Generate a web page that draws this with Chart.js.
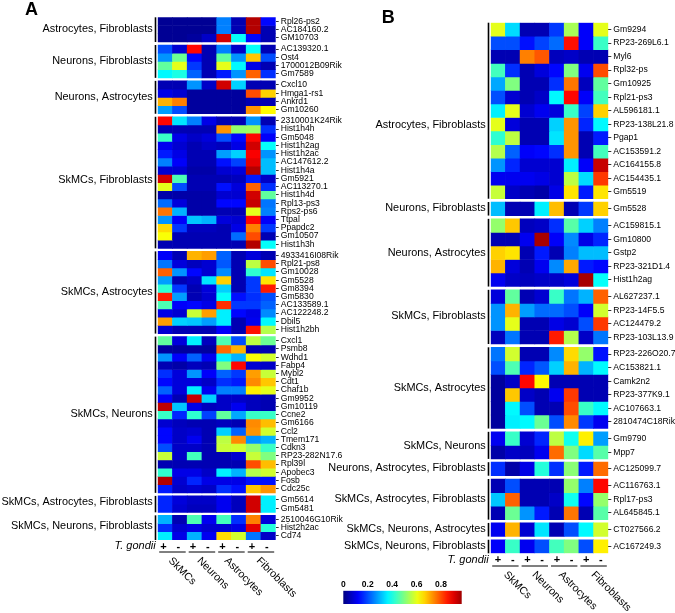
<!DOCTYPE html>
<html>
<head>
<meta charset="utf-8">
<title>Heatmaps</title>
<script src="https://cdn.jsdelivr.net/npm/chart.js@4/dist/chart.umd.min.js"></script>
<style>
  html, body { margin: 0; padding: 0; background: #fff; overflow: hidden; }
  canvas { position: absolute; }
</style>
</head>
<body>
<canvas id="panelA" width="345" height="613" style="left:0;top:0"></canvas>
<canvas id="panelB" width="385" height="613" style="left:290px;top:0"></canvas>
<canvas id="colorbar" width="140" height="38" style="left:335px;top:575px"></canvas>
<script>
const columns = ['+', '-', '+', '-', '+', '-', '+', '-'];
const cellTypes = ['SkMCs', 'Neurons', 'Astrocytes', 'Fibroblasts'];
const colorbarTicks = [0, 0.2, 0.4, 0.6, 0.8];

const groupNamesA = ['Astrocytes, Fibroblasts', 'Neurons, Fibroblasts', 'Neurons, Astrocytes', 'SkMCs, Fibroblasts',
  'SkMCs, Astrocytes', 'SkMCs, Neurons', 'SkMCs, Astrocytes, Fibroblasts', 'SkMCs, Neurons, Fibroblasts'];
const groupSizesA = [3, 4, 4, 16, 10, 19, 2, 3];
const genesA = ['Rpl26-ps2', 'AC184160.2', 'GM10703',
  'AC139320.1', 'Ost4', '1700012B09Rik', 'Gm7589',
  'Cxcl10', 'Hmga1-rs1', 'Ankrd1', 'Gm10260',
  '2310001K24Rik', 'Hist1h4h', 'Gm5048', 'Hist1h2ag', 'Hist1h2ac', 'AC147612.2', 'Hist1h4a', 'Gm5921',
  'AC113270.1', 'Hist1h4d', 'Rpl13-ps3', 'Rps2-ps6', 'Ttpal', 'Ppapdc2', 'Gm10507', 'Hist1h3h',
  '4933416I08Rik', 'Rpl21-ps8', 'Gm10028', 'Gm5528', 'Gm8394', 'Gm5830', 'AC133589.1', 'AC122248.2', 'Dbil5', 'Hist1h2bh',
  'Cxcl1', 'Psmb8', 'Wdhd1', 'Fabp4', 'Mybl2', 'Cdt1', 'Chaf1b', 'Gm9952', 'Gm10119', 'Ccne2',
  'Gm6166', 'Ccl2', 'Tmem171', 'Cdkn3', 'RP23-282N17.6', 'Rpl39l', 'Apobec3', 'Fosb', 'Cdc25c',
  'Gm5614', 'Gm5481',
  '2510046G10Rik', 'Hist2h2ac', 'Cd74'];
const valuesA = [
  [.02,.02,.02,.02,.25,.05,.95,.13],
  [.02,.02,.02,.02,.25,.05,.95,.05],
  [.02,.02,.03,.07,.92,.38,.13,.05],

  [.2,.08,.87,.05,.25,.07,.38,.05],
  [.27,.48,.13,.05,.47,.27,.68,.2],
  [.47,.6,.18,.05,.6,.37,.1,.05],
  [.37,.4,.22,.05,.15,.27,.78,.17],

  [.05,.05,.27,.07,.92,.33,.05,.05],
  [.1,.08,.03,.03,.03,.03,.8,.67],
  [.7,.75,.03,.03,.03,.03,.05,.05],
  [.28,.2,.03,.03,.03,.03,.73,.63],

  [.87,.35,.25,.1,.05,.05,.27,.05],
  [.05,.05,.05,.05,.73,.52,.53,.17],
  [.43,.1,.07,.09,.2,.13,.87,.12],
  [.11,.08,.05,.07,.06,.1,.92,.38],
  [.15,.1,.05,.05,.28,.33,.88,.27],
  [.25,.12,.05,.05,.14,.19,.9,.31],
  [.08,.08,.04,.04,.08,.09,.95,.31],
  [.92,.45,.05,.05,.05,.06,.15,.07],
  [.6,.2,.05,.05,.14,.09,.78,.17],
  [.04,.04,.04,.04,.08,.08,.92,.47],
  [.23,.09,.04,.04,.13,.13,.93,.24],
  [.76,.3,.04,.04,.05,.05,.6,.25],
  [.27,.12,.32,.3,.09,.08,.87,.12],
  [.66,.18,.06,.06,.05,.1,.75,.18],
  [.62,.05,.05,.05,.05,.23,.8,.05],
  [.05,.05,.05,.05,.05,.05,.95,.38],

  [.12,.05,.7,.72,.22,.05,.09,.05],
  [.24,.09,.06,.08,.21,.05,.56,.8],
  [.78,.27,.13,.08,.26,.05,.42,.35],
  [.28,.05,.07,.35,.67,.05,.18,.65],
  [.42,.18,.05,.09,.33,.05,.18,.85],
  [.85,.28,.05,.08,.38,.14,.17,.2],
  [.45,.12,.13,.1,.83,.18,.18,.22],
  [.1,.08,.57,.72,.36,.13,.1,.26],
  [.72,.33,.32,.28,.36,.05,.11,.37],
  [.08,.05,.05,.05,.12,.05,.86,.55],

  [.47,.09,.36,.06,.45,.2,.56,.48],
  [.03,.03,.03,.03,.77,.7,.05,.05],
  [.27,.12,.22,.11,.36,.3,.62,.58],
  [.05,.04,.06,.05,.5,.87,.08,.07],
  [.17,.09,.27,.12,.22,.18,.72,.57],
  [.13,.09,.09,.07,.17,.15,.74,.68],
  [.22,.09,.36,.11,.25,.25,.64,.6],
  [.12,.05,.93,.33,.07,.07,.06,.05],
  [.94,.32,.1,.06,.07,.11,.06,.05],
  [.43,.16,.42,.19,.47,.29,.43,.43],
  [.08,.06,.05,.05,.06,.05,.74,.69],
  [.13,.07,.08,.05,.33,.22,.73,.58],
  [.13,.07,.11,.05,.56,.74,.27,.3],
  [.2,.07,.07,.05,.57,.58,.52,.43],
  [.57,.07,.44,.05,.05,.08,.57,.5],
  [.05,.05,.05,.05,.05,.05,.8,.69],
  [.42,.1,.1,.07,.36,.3,.55,.58],
  [.95,.08,.16,.1,.1,.1,.14,.14],
  [.15,.07,.08,.07,.17,.14,.68,.73],

  [.16,.09,.07,.07,.11,.06,.92,.36],
  [.16,.08,.06,.06,.11,.06,.92,.36],

  [.3,.05,.45,.11,.44,.17,.75,.09],
  [.17,.08,.1,.08,.08,.1,.9,.41],
  [.36,.1,.3,.11,.66,.58,.24,.07]
];

const groupNamesB = ['Astrocytes, Fibroblasts', 'Neurons, Fibroblasts', 'Neurons, Astrocytes', 'SkMCs, Fibroblasts',
  'SkMCs, Astrocytes', 'SkMCs, Neurons', 'Neurons, Astrocytes, Fibroblasts', 'SkMCs, Astrocytes, Fibroblasts',
  'SkMCs, Neurons, Astrocytes', 'SkMCs, Neurons, Fibroblasts'];
const groupSizesB = [13, 1, 5, 4, 6, 2, 1, 3, 1, 1];
const genesB = ['Gm9294', 'RP23-269L6.1', 'Myl6', 'Rpl32-ps', 'Gm10925', 'Rpl21-ps3', 'AL596181.1', 'RP23-138L21.8',
  'Pgap1', 'AC153591.2', 'AC164155.8', 'AC154435.1', 'Gm5519',
  'Gm5528',
  'AC159815.1', 'Gm10800', 'Gstp2', 'RP23-321D1.4', 'Hist1h2ag',
  'AL627237.1', 'RP23-14F5.5', 'AC124479.2', 'RP23-103L13.9',
  'RP23-226O20.7', 'AC153821.1', 'Camk2n2', 'RP23-377K9.1', 'AC107663.1', '2810474C18Rik',
  'Gm9790', 'Mpp7',
  'AC125099.7',
  'AC116763.1', 'Rpl17-ps3', 'AL645845.1',
  'CT027566.2',
  'AC167249.3'];
const valuesB = [
  [.6,.34,.05,.05,.18,.54,.12,.6],
  [.2,.2,.14,.19,.23,.86,.12,.43],
  [.05,.05,.75,.79,.06,.07,.05,.05],
  [.44,.17,.05,.09,.13,.5,.11,.8],
  [.29,.5,.05,.05,.17,.76,.06,.47],
  [.2,.08,.05,.07,.37,.87,.12,.44],
  [.36,.6,.08,.11,.09,.43,.19,.67],
  [.6,.09,.05,.05,.33,.73,.16,.37],
  [.42,.56,.05,.05,.35,.73,.05,.15],
  [.55,.22,.12,.13,.17,.73,.05,.44],
  [.27,.16,.08,.08,.08,.36,.12,.93],
  [.11,.11,.11,.1,.08,.56,.34,.82],
  [.57,.07,.05,.04,.1,.65,.15,.65],

  [.31,.05,.05,.36,.69,.05,.18,.67],

  [.52,.68,.06,.07,.17,.46,.33,.25],
  [.05,.05,.11,.96,.12,.26,.1,.16],
  [.67,.65,.05,.15,.05,.25,.31,.31],
  [.7,.09,.05,.11,.26,.71,.15,.13],
  [.11,.07,.06,.07,.07,.09,.96,.38],

  [.09,.47,.05,.08,.43,.24,.3,.78],
  [.27,.7,.28,.23,.23,.2,.12,.58],
  [.27,.6,.05,.05,.1,.08,.2,.82],
  [.06,.24,.05,.05,.85,.55,.07,.24],

  [.24,.58,.05,.05,.26,.66,.52,.14],
  [.2,.45,.16,.21,.33,.7,.3,.37],
  [.03,.07,.87,.63,.05,.05,.05,.05],
  [.03,.68,.07,.05,.11,.82,.05,.05],
  [.03,.37,.2,.05,.05,.8,.43,.37],
  [.03,.36,.37,.48,.2,.74,.18,.11],

  [.11,.43,.08,.16,.56,.39,.64,.28],
  [.04,.07,.06,.11,.77,.5,.34,.46],

  [.17,.04,.1,.41,.17,.51,.15,.77],

  [.05,.2,.05,.05,.05,.52,.25,.87],
  [.32,.78,.05,.05,.07,.39,.13,.52],
  [.05,.48,.27,.15,.05,.76,.05,.46],

  [.11,.7,.08,.35,.05,.2,.37,.58],

  [.12,.43,.11,.2,.44,.5,.2,.64]
];

const FONT = "'Liberation Sans', Arial, sans-serif";
const INK = '#000';

// matlab style jet
function jet(v) {
  const ramp = (x) => Math.round(255 * Math.max(0, Math.min(1, x)));
  const r = ramp(Math.min(4 * v - 1.5, 4.5 - 4 * v));
  const g = ramp(Math.min(4 * v - 0.5, 3.5 - 4 * v));
  const b = ramp(Math.min(4 * v + 0.5, 2.5 - 4 * v));
  return `rgb(${r},${g},${b})`;
}

function drawPanel(id, genes, values, groupNames, groupSizes, box) {
  // row positions in y units: one unit per row plus a small gap between groups
  const starts = [];
  const groups = [];
  let pos = 0;
  groupSizes.forEach((size, g) => {
    groups.push({ name: groupNames[g], from: pos, to: pos + size, nudge: box.labelNudge[g] });
    for (let i = 0; i < size; i++) starts.push(pos + i);
    pos += size + box.gap;
  });
  const total = pos - box.gap;

  const datasets = values.map((row, r) => ({
    label: genes[r],
    data: row.map(() => [starts[r], starts[r] + 1]),
    backgroundColor: row.map(jet),
    borderWidth: 0
  }));

  const annotations = {
    id: 'annotations',
    afterDraw(chart) {
      const { ctx, scales } = chart;
      const x = scales.x, y = scales.y;
      ctx.save();
      ctx.fillStyle = INK;
      ctx.strokeStyle = INK;

      // group labels and the bracket lines next to them
      ctx.textAlign = 'right';
      ctx.textBaseline = 'middle';
      ctx.font = `10.9px ${FONT}`;
      groups.forEach((g) => {
        const top = y.getPixelForValue(g.from), bottom = y.getPixelForValue(g.to);
        ctx.fillText(g.name, x.left - 5, (top + bottom) / 2 + g.nudge);
        ctx.lineWidth = 1.6;
        ctx.beginPath();
        ctx.moveTo(x.left - 2.2, top);
        ctx.lineTo(x.left - 2.2, bottom);
        ctx.stroke();
      });

      ctx.font = `italic 11px ${FONT}`;
      ctx.fillText('T. gondii', x.left - 2, box.gondiiY);

      // underline each +/- pair, cell type name hangs off it
      ctx.textAlign = 'left';
      ctx.textBaseline = 'alphabetic';
      cellTypes.forEach((name, k) => {
        const step = x.getPixelForValue(1) - x.getPixelForValue(0);
        const left = x.getPixelForValue(k * 2) - step / 2 + 1.5;
        const right = x.getPixelForValue(k * 2 + 1) + step / 2 - 1.5;
        ctx.lineWidth = 1;
        ctx.beginPath();
        ctx.moveTo(left, box.lineY);
        ctx.lineTo(right, box.lineY);
        ctx.stroke();
        ctx.save();
        ctx.font = `10.6px ${FONT}`;
        ctx.translate(box.nameX[k], box.nameY);
        ctx.rotate(Math.PI / 4);
        ctx.fillText(name, 0, 0);
        ctx.restore();
      });

      ctx.font = `bold 18px ${FONT}`;
      ctx.fillText(box.letter, box.letterX, box.letterY);
      ctx.restore();
    }
  };

  return new Chart(document.getElementById(id), {
    type: 'bar',
    data: { labels: columns, datasets },
    plugins: [annotations],
    options: {
      responsive: false,
      animation: false,
      events: [],
      layout: { padding: { left: box.left, top: box.top, right: 0, bottom: box.bottom } },
      datasets: { bar: { grouped: false, barPercentage: 1, categoryPercentage: 1 } },
      plugins: { legend: { display: false }, tooltip: { enabled: false } },
      scales: {
        x: {
          grid: { display: false, drawTicks: false },
          border: { display: false },
          afterFit(scale) { scale.height = box.xHeight; },
          ticks: {
            autoSkip: false, maxRotation: 0, padding: box.xPad, labelOffset: box.xShift,
            color: INK, font: { family: FONT, size: 11, weight: 'bold' }
          }
        },
        y: {
          type: 'linear',
          position: 'right',
          reverse: true,
          min: 0,
          max: total,
          border: { display: false },
          grid: { drawOnChartArea: false, drawTicks: true, tickLength: 3, color: '#333', lineWidth: 1 },
          afterBuildTicks(scale) {
            scale.ticks = starts.map((s) => ({ value: s + 0.5 }));
          },
          afterFit(scale) { scale.width = box.yWidth; },
          ticks: {
            autoSkip: false, padding: 2, color: INK,
            font: { family: FONT, size: box.geneSize },
            callback: (value, i) => genes[i]
          }
        }
      }
    }
  });
}

drawPanel('panelA', genesA, valuesA, groupNamesA, groupSizesA, {
  left: 157.7, top: 17.3, bottom: 53, xHeight: 20, xPad: 0, xShift: -1.5,
  yWidth: 345 - 275.7, gap: 0.365, geneSize: 8.6,
  labelNudge: [-0.7, -0.9, -0.5, -2.5, -0.3, -0.3, -1.7, -1.5],
  gondiiY: 545.7, lineY: 552, nameX: [168, 196.7, 224, 256], nameY: 561.2,
  letter: 'A', letterX: 25, letterY: 15.3
});

drawPanel('panelB', genesB, valuesB, groupNamesB, groupSizesB, {
  left: 200.7, top: 22.7, bottom: 39.7, xHeight: 20, xPad: 0, xShift: 0,
  yWidth: 385 - 318.3, gap: 0.243, geneSize: 8.6,
  labelNudge: [14, -1, 0, -0.5, -0.2, 0.3, -0.5, -0.1, -0.8, -0.3],
  gondiiY: 560, lineY: 566, nameX: [213.3, 241.7, 268.3, 300.7], nameY: 575.2,
  letter: 'B', letterX: 91.7, letterY: 22.7
});

// colour key, one floating bar filled with the jet ramp
new Chart(document.getElementById('colorbar'), {
  type: 'bar',
  data: {
    labels: [''],
    datasets: [{
      data: [[0, 0.97]],
      borderWidth: 0,
      backgroundColor(c) {
        const area = c.chart.chartArea;
        if (!area) return '#000';
        const grad = c.chart.ctx.createLinearGradient(area.left, 0, area.right, 0);
        for (let i = 0; i <= 16; i++) grad.addColorStop(i / 16, jet(i / 16 * 0.97));
        return grad;
      }
    }]
  },
  options: {
    indexAxis: 'y',
    responsive: false,
    animation: false,
    events: [],
    layout: { padding: { left: 8.3, right: 13.3, top: 0, bottom: 9 } },
    datasets: { bar: { barPercentage: 1, categoryPercentage: 1 } },
    plugins: { legend: { display: false }, tooltip: { enabled: false } },
    scales: {
      y: { display: false },
      x: {
        type: 'linear',
        position: 'top',
        min: 0,
        max: 0.97,
        border: { display: false },
        grid: { display: false, drawTicks: false },
        afterBuildTicks(scale) {
          scale.ticks = colorbarTicks.map((v) => ({ value: v }));
        },
        afterFit(scale) { scale.height = 15.7; },
        ticks: {
          autoSkip: false, maxRotation: 0, padding: 1, color: INK,
          font: { family: FONT, size: 8.5, weight: 'bold' },
          callback: (value) => String(value)
        }
      }
    }
  }
});
</script>
</body>
</html>
